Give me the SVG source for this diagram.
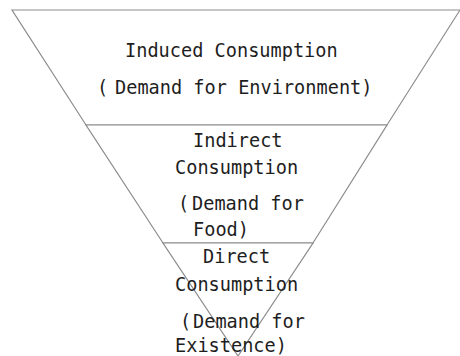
<svg xmlns="http://www.w3.org/2000/svg" width="460" height="356" viewBox="0 0 460 356">
<style>
.tier{fill:#fff;stroke:#8c8c8c;stroke-width:1.2;stroke-linejoin:miter}
.t{font-family:"DejaVu Sans Mono","Liberation Mono",monospace;font-size:18.6px;fill:#1e1e1e}
</style>
<rect width="460" height="356" fill="#fff"/>
<g id="tier-induced">
<polygon class="tier" points="12,10 460,10 387,125 86,125"/>
<text class="t" x="125" y="57">Induced Consumption</text>
<text class="t" y="94"><tspan x="97">(</tspan><tspan x="115">Demand for Environment)</tspan></text>
</g>
<g id="tier-indirect">
<polygon class="tier" points="86,125 387,125 313,243 163,243"/>
<text class="t" x="193" y="147">Indirect</text>
<text class="t" x="175" y="174">Consumption</text>
<text class="t" y="210"><tspan x="178">(</tspan><tspan x="192">Demand for</tspan></text>
<text class="t" x="193" y="236">Food)</text>
</g>
<g id="tier-direct">
<polygon class="tier" points="163,243 313,243 238,356"/>
<text class="t" x="203" y="263">Direct</text>
<text class="t" x="175" y="291">Consumption</text>
<text class="t" y="328"><tspan x="180">(</tspan><tspan x="193">Demand for</tspan></text>
<text class="t" x="175" y="352">Existence)</text>
</g>
<g id="connectors"></g>
</svg>
